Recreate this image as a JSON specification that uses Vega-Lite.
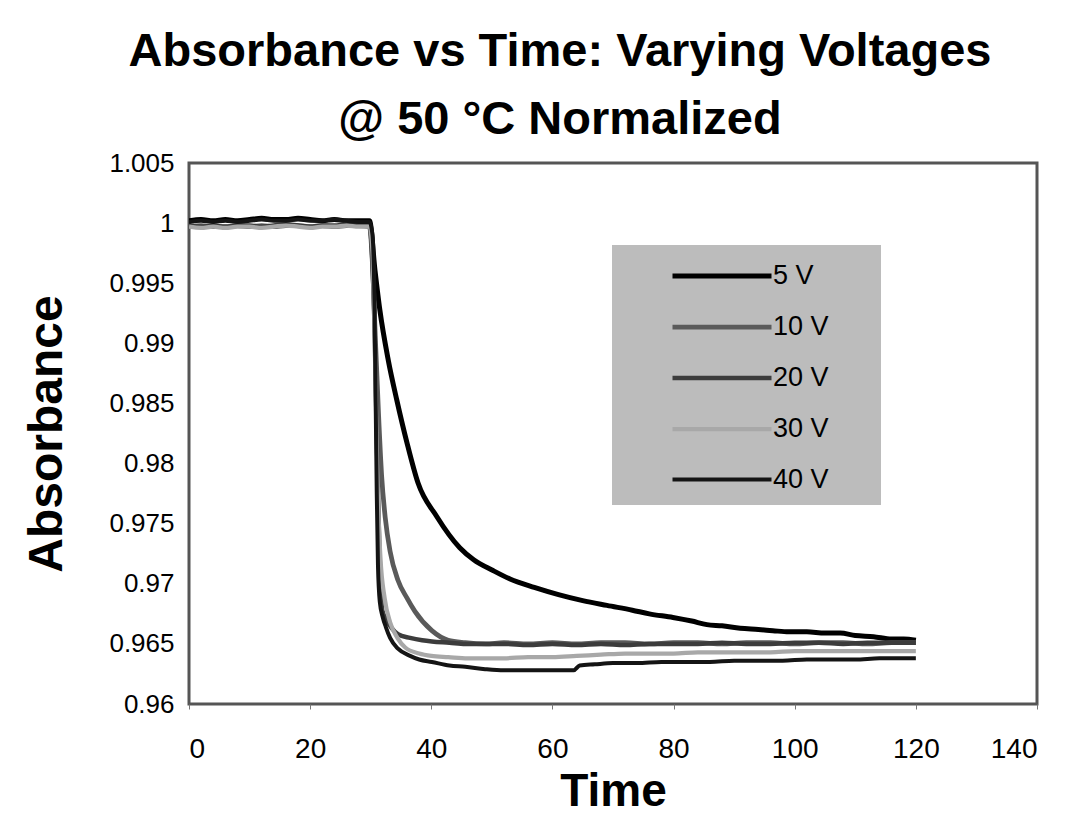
{
  "$schema": "https://vega.github.io/schema/vega-lite/v6.json",
  "width": 848,
  "height": 541,
  "autosize": "none",
  "padding": {"left": 189, "top": 163, "right": 40, "bottom": 115},
  "background": "white",
  "title": {
    "text": ["Absorbance vs Time: Varying Voltages", "@ 50 °C Normalized"],
    "fontSize": 47, "font": "Liberation Sans", "fontWeight": "bold", "color": "#000",
    "anchor": "middle", "frame": "group", "dx": -53, "lineHeight": 68, "offset": 6
  },
  "config": {
    "view": {"stroke": "#555", "strokeWidth": 3},
    "axis": {"grid": false, "domain": false, "labelFont": "Liberation Sans", "labelColor": "#000", "titleFont": "Liberation Sans", "titleFontWeight": "bold", "titleColor": "#000"},
    "legend": {
      "orient": "none", "legendX": 423, "legendY": 82, "fillColor": "#bcbcbc", "padding": 12,
      "symbolType": "M-1,0H5", "symbolSize": 1089, "symbolOffset": 46,
      "labelOffset": 65, "labelFontSize": 27, "labelFont": "Liberation Sans", "labelColor": "#000",
      "rowPadding": 19
    }
  },
  "data": {"values": [
    {"s":"5 V","t":0,"v":1.0002},{"s":"5 V","t":2,"v":1.0003},{"s":"5 V","t":4,"v":1.0002},{"s":"5 V","t":6,"v":1.0003},{"s":"5 V","t":8,"v":1.0002},{"s":"5 V","t":10,"v":1.0003},{"s":"5 V","t":12,"v":1.0004},{"s":"5 V","t":14,"v":1.0003},{"s":"5 V","t":16,"v":1.0003},{"s":"5 V","t":18,"v":1.0004},{"s":"5 V","t":20,"v":1.0003},{"s":"5 V","t":22,"v":1.0002},{"s":"5 V","t":24,"v":1.0003},{"s":"5 V","t":26,"v":1.0002},{"s":"5 V","t":28,"v":1.0002},{"s":"5 V","t":29.8,"v":1.0002},
    {"s":"5 V","t":30.7,"v":0.9961},{"s":"5 V","t":31.5,"v":0.9928},{"s":"5 V","t":32.9,"v":0.9886},{"s":"5 V","t":34.3,"v":0.9853},{"s":"5 V","t":36,"v":0.9817},{"s":"5 V","t":37.8,"v":0.9784},{"s":"5 V","t":40.9,"v":0.9756},{"s":"5 V","t":44.7,"v":0.973},{"s":"5 V","t":47,"v":0.972},{"s":"5 V","t":50.2,"v":0.9711},{"s":"5 V","t":53,"v":0.9704},{"s":"5 V","t":57,"v":0.9697},{"s":"5 V","t":61,"v":0.9691},{"s":"5 V","t":65,"v":0.9686},{"s":"5 V","t":69,"v":0.9682},{"s":"5 V","t":73.2,"v":0.9678},{"s":"5 V","t":76,"v":0.9675},{"s":"5 V","t":79.9,"v":0.9672},{"s":"5 V","t":83,"v":0.9669},{"s":"5 V","t":85.5,"v":0.9666},{"s":"5 V","t":88,"v":0.9665},{"s":"5 V","t":91,"v":0.9663},{"s":"5 V","t":94,"v":0.9662},{"s":"5 V","t":96.4,"v":0.9661},{"s":"5 V","t":99,"v":0.966},{"s":"5 V","t":102,"v":0.966},{"s":"5 V","t":105,"v":0.9659},{"s":"5 V","t":107.5,"v":0.9659},{"s":"5 V","t":110,"v":0.9657},{"s":"5 V","t":113,"v":0.9656},{"s":"5 V","t":116,"v":0.9654},{"s":"5 V","t":118,"v":0.9654},{"s":"5 V","t":120,"v":0.9653},

    {"s":"10 V","t":0,"v":0.9997},{"s":"10 V","t":2,"v":0.9998},{"s":"10 V","t":4,"v":0.9997},{"s":"10 V","t":6,"v":0.9997},{"s":"10 V","t":8,"v":0.9998},{"s":"10 V","t":10,"v":0.9997},{"s":"10 V","t":12,"v":0.9998},{"s":"10 V","t":14,"v":0.9997},{"s":"10 V","t":16,"v":0.9998},{"s":"10 V","t":18,"v":0.9998},{"s":"10 V","t":20,"v":0.9997},{"s":"10 V","t":22,"v":0.9998},{"s":"10 V","t":24,"v":0.9997},{"s":"10 V","t":26,"v":0.9998},{"s":"10 V","t":28,"v":0.9998},{"s":"10 V","t":29.8,"v":0.9997},
    {"s":"10 V","t":30.3,"v":0.9965},{"s":"10 V","t":30.8,"v":0.99},{"s":"10 V","t":31.3,"v":0.984},{"s":"10 V","t":31.8,"v":0.979},{"s":"10 V","t":32.4,"v":0.9755},{"s":"10 V","t":33.2,"v":0.9727},{"s":"10 V","t":34.5,"v":0.9703},{"s":"10 V","t":36,"v":0.9688},{"s":"10 V","t":37.3,"v":0.9677},{"s":"10 V","t":40.1,"v":0.9661},{"s":"10 V","t":42.8,"v":0.9653},{"s":"10 V","t":45.6,"v":0.9651},{"s":"10 V","t":49,"v":0.965},{"s":"10 V","t":52,"v":0.9651},{"s":"10 V","t":56,"v":0.965},{"s":"10 V","t":60,"v":0.9651},{"s":"10 V","t":64,"v":0.965},{"s":"10 V","t":68,"v":0.9651},{"s":"10 V","t":72,"v":0.9651},{"s":"10 V","t":76,"v":0.965},{"s":"10 V","t":80,"v":0.9651},{"s":"10 V","t":84,"v":0.9651},{"s":"10 V","t":88,"v":0.965},{"s":"10 V","t":92,"v":0.9651},{"s":"10 V","t":96,"v":0.9651},{"s":"10 V","t":100,"v":0.965},{"s":"10 V","t":104,"v":0.9651},{"s":"10 V","t":108,"v":0.9651},{"s":"10 V","t":112,"v":0.965},{"s":"10 V","t":116,"v":0.9651},{"s":"10 V","t":120,"v":0.9651},

    {"s":"20 V","t":0,"v":0.9998},{"s":"20 V","t":2,"v":0.9997},{"s":"20 V","t":4,"v":0.9998},{"s":"20 V","t":6,"v":0.9997},{"s":"20 V","t":8,"v":0.9998},{"s":"20 V","t":10,"v":0.9998},{"s":"20 V","t":12,"v":0.9997},{"s":"20 V","t":14,"v":0.9998},{"s":"20 V","t":16,"v":0.9999},{"s":"20 V","t":18,"v":0.9998},{"s":"20 V","t":20,"v":0.9997},{"s":"20 V","t":22,"v":0.9998},{"s":"20 V","t":24,"v":0.9998},{"s":"20 V","t":26,"v":0.9999},{"s":"20 V","t":28,"v":0.9998},{"s":"20 V","t":29.8,"v":0.9998},
    {"s":"20 V","t":30.3,"v":0.9965},{"s":"20 V","t":30.7,"v":0.99},{"s":"20 V","t":31,"v":0.9825},{"s":"20 V","t":31.3,"v":0.9755},{"s":"20 V","t":31.9,"v":0.9678},{"s":"20 V","t":32.5,"v":0.9671},{"s":"20 V","t":33.5,"v":0.9663},{"s":"20 V","t":34.5,"v":0.9658},{"s":"20 V","t":36.5,"v":0.9655},{"s":"20 V","t":38.5,"v":0.9653},{"s":"20 V","t":40.1,"v":0.9652},{"s":"20 V","t":43,"v":0.9651},{"s":"20 V","t":45.6,"v":0.965},{"s":"20 V","t":49,"v":0.965},{"s":"20 V","t":52,"v":0.965},{"s":"20 V","t":56,"v":0.9649},{"s":"20 V","t":60,"v":0.965},{"s":"20 V","t":64,"v":0.9649},{"s":"20 V","t":68,"v":0.965},{"s":"20 V","t":72,"v":0.9649},{"s":"20 V","t":76,"v":0.965},{"s":"20 V","t":80,"v":0.965},{"s":"20 V","t":84,"v":0.965},{"s":"20 V","t":88,"v":0.9651},{"s":"20 V","t":92,"v":0.965},{"s":"20 V","t":96,"v":0.965},{"s":"20 V","t":100,"v":0.9651},{"s":"20 V","t":104,"v":0.9651},{"s":"20 V","t":108,"v":0.965},{"s":"20 V","t":112,"v":0.9651},{"s":"20 V","t":116,"v":0.9651},{"s":"20 V","t":120,"v":0.9651},

    {"s":"30 V","t":0,"v":0.9997},{"s":"30 V","t":2,"v":0.9996},{"s":"30 V","t":4,"v":0.9997},{"s":"30 V","t":6,"v":0.9996},{"s":"30 V","t":8,"v":0.9997},{"s":"30 V","t":10,"v":0.9997},{"s":"30 V","t":12,"v":0.9996},{"s":"30 V","t":14,"v":0.9997},{"s":"30 V","t":16,"v":0.9998},{"s":"30 V","t":18,"v":0.9997},{"s":"30 V","t":20,"v":0.9996},{"s":"30 V","t":22,"v":0.9997},{"s":"30 V","t":24,"v":0.9997},{"s":"30 V","t":26,"v":0.9998},{"s":"30 V","t":28,"v":0.9997},{"s":"30 V","t":29.8,"v":0.9997},
    {"s":"30 V","t":30.3,"v":0.9975},{"s":"30 V","t":30.6,"v":0.9915},{"s":"30 V","t":30.9,"v":0.984},{"s":"30 V","t":31.2,"v":0.977},{"s":"30 V","t":31.6,"v":0.9722},{"s":"30 V","t":32.3,"v":0.9688},{"s":"30 V","t":33.2,"v":0.9668},{"s":"30 V","t":34.4,"v":0.9655},{"s":"30 V","t":35.7,"v":0.9647},{"s":"30 V","t":38,"v":0.9642},{"s":"30 V","t":40,"v":0.964},{"s":"30 V","t":42.8,"v":0.9639},{"s":"30 V","t":46,"v":0.9638},{"s":"30 V","t":48.9,"v":0.9638},{"s":"30 V","t":52,"v":0.9638},{"s":"30 V","t":56,"v":0.9639},{"s":"30 V","t":60,"v":0.9639},{"s":"30 V","t":64,"v":0.964},{"s":"30 V","t":68,"v":0.9641},{"s":"30 V","t":72,"v":0.9642},{"s":"30 V","t":76,"v":0.9642},{"s":"30 V","t":80,"v":0.9642},{"s":"30 V","t":84,"v":0.9643},{"s":"30 V","t":88,"v":0.9643},{"s":"30 V","t":92,"v":0.9643},{"s":"30 V","t":96,"v":0.9643},{"s":"30 V","t":100,"v":0.9644},{"s":"30 V","t":104,"v":0.9644},{"s":"30 V","t":108,"v":0.9644},{"s":"30 V","t":112,"v":0.9644},{"s":"30 V","t":116,"v":0.9644},{"s":"30 V","t":120,"v":0.9644},

    {"s":"40 V","t":0,"v":1.0001},{"s":"40 V","t":2,"v":1.0002},{"s":"40 V","t":4,"v":1.0001},{"s":"40 V","t":6,"v":1.0002},{"s":"40 V","t":8,"v":1.0001},{"s":"40 V","t":10,"v":1.0002},{"s":"40 V","t":12,"v":1.0003},{"s":"40 V","t":14,"v":1.0002},{"s":"40 V","t":16,"v":1.0002},{"s":"40 V","t":18,"v":1.0003},{"s":"40 V","t":20,"v":1.0002},{"s":"40 V","t":22,"v":1.0002},{"s":"40 V","t":24,"v":1.0003},{"s":"40 V","t":26,"v":1.0002},{"s":"40 V","t":28,"v":1.0001},{"s":"40 V","t":29.8,"v":1.0001},
    {"s":"40 V","t":30.3,"v":0.999},{"s":"40 V","t":30.6,"v":0.994},{"s":"40 V","t":30.8,"v":0.986},{"s":"40 V","t":31,"v":0.9775},{"s":"40 V","t":31.2,"v":0.9715},{"s":"40 V","t":31.5,"v":0.9685},{"s":"40 V","t":32,"v":0.9672},{"s":"40 V","t":32.5,"v":0.9664},{"s":"40 V","t":33.2,"v":0.9655},{"s":"40 V","t":34.5,"v":0.9646},{"s":"40 V","t":36.5,"v":0.964},{"s":"40 V","t":38,"v":0.9637},{"s":"40 V","t":40.1,"v":0.9635},{"s":"40 V","t":43,"v":0.9632},{"s":"40 V","t":45.6,"v":0.9631},{"s":"40 V","t":48.9,"v":0.9629},{"s":"40 V","t":52,"v":0.9628},{"s":"40 V","t":56,"v":0.9628},{"s":"40 V","t":60,"v":0.9628},{"s":"40 V","t":63.5,"v":0.9628},{"s":"40 V","t":64.5,"v":0.9632},{"s":"40 V","t":67,"v":0.9633},{"s":"40 V","t":70,"v":0.9634},{"s":"40 V","t":74,"v":0.9634},{"s":"40 V","t":78,"v":0.9635},{"s":"40 V","t":82,"v":0.9635},{"s":"40 V","t":86,"v":0.9635},{"s":"40 V","t":90,"v":0.9636},{"s":"40 V","t":94,"v":0.9636},{"s":"40 V","t":98,"v":0.9636},{"s":"40 V","t":102,"v":0.9637},{"s":"40 V","t":106,"v":0.9637},{"s":"40 V","t":110,"v":0.9637},{"s":"40 V","t":114,"v":0.9638},{"s":"40 V","t":118,"v":0.9638},{"s":"40 V","t":120,"v":0.9638}
  ]},
  "mark": {"type": "line", "interpolate": "monotone", "clip": true},
  "encoding": {
    "x": {"field": "t", "type": "quantitative", "title": "Time",
      "scale": {"domain": [0, 140], "nice": false, "zero": false},
      "axis": {"values": [0, 20, 40, 60, 80, 100, 120, 140], "labelFontSize": 28, "labelPadding": 26, "tickSize": 5, "tickColor": "#777", "titleFontSize": 46, "titlePadding": 6}},
    "y": {"field": "v", "type": "quantitative", "title": "Absorbance",
      "scale": {"domain": [0.96, 1.005], "nice": false, "zero": false},
      "axis": {"values": [0.96, 0.965, 0.97, 0.975, 0.98, 0.985, 0.99, 0.995, 1, 1.005], "format": ".3~f", "labelFontSize": 26, "ticks": false, "labelPadding": 15, "titleFontSize": 48, "titlePadding": 37}},
    "color": {"field": "s", "type": "nominal", "title": null,
      "legend": {"labelExpr": "datum.label + '\u2800\u2800'"},
      "scale": {"domain": ["5 V", "10 V", "20 V", "30 V", "40 V"], "range": ["#000000", "#5a5a5a", "#3c3c3c", "#a8a8a8", "#141414"]}},
    "strokeWidth": {"field": "s", "type": "nominal", "title": null,
      "scale": {"domain": ["5 V", "10 V", "20 V", "30 V", "40 V"], "range": [5, 4, 4, 3.5, 5]}}
  }
}
